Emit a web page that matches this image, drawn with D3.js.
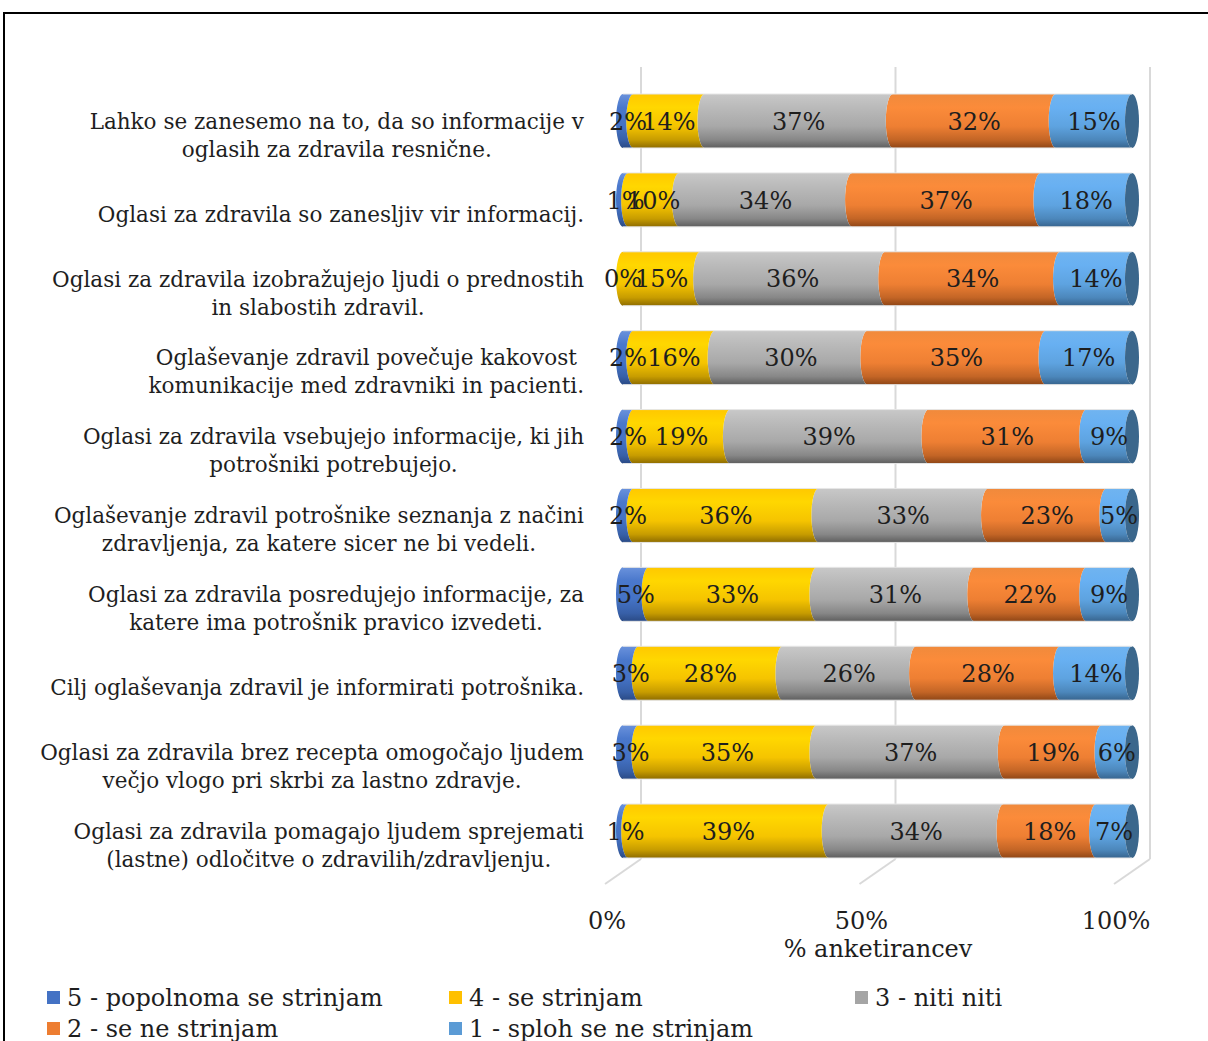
<!DOCTYPE html>
<html>
<head>
<meta charset="utf-8">
<script src="https://cdn.jsdelivr.net/npm/d3@7"></script>
<style>
  html, body { margin: 0; padding: 0; background: #fff; }
  svg { display: block; font-family: "DejaVu Serif", "Liberation Serif", serif; }
</style>
</head>
<body>
<svg id="chart" width="1208" height="1041"></svg>
<script>
// Survey statements (line breaks mark where each label wraps)
const categories = [
  "Lahko se zanesemo na to, da so informacije v\noglasih za zdravila resnične.",
  "Oglasi za zdravila so zanesljiv vir informacij.",
  "Oglasi za zdravila izobražujejo ljudi o prednostih\nin slabostih zdravil.",
  "Oglaševanje zdravil povečuje kakovost\nkomunikacije med zdravniki in pacienti.",
  "Oglasi za zdravila vsebujejo informacije, ki jih\npotrošniki potrebujejo.",
  "Oglaševanje zdravil potrošnike seznanja z načini\nzdravljenja, za katere sicer ne bi vedeli.",
  "Oglasi za zdravila posredujejo informacije, za\nkatere ima potrošnik pravico izvedeti.",
  "Cilj oglaševanja zdravil je informirati potrošnika.",
  "Oglasi za zdravila brez recepta omogočajo ljudem\nvečjo vlogo pri skrbi za lastno zdravje.",
  "Oglasi za zdravila pomagajo ljudem sprejemati\n(lastne) odločitve o zdravilih/zdravljenju."
];

// Answer shares in percent, one array per answer level
const seriesNames = [
  "5 - popolnoma se strinjam",
  "4 - se strinjam",
  "3 - niti niti",
  "2 - se ne strinjam",
  "1 - sploh se ne strinjam"
];
const agree5    = [2, 1, 0, 2, 2, 2, 5, 3, 3, 1];
const agree4    = [14, 10, 15, 16, 19, 36, 33, 28, 35, 39];
const neutral3  = [37, 34, 36, 30, 39, 33, 31, 26, 37, 34];
const disagree2 = [32, 37, 34, 35, 31, 23, 22, 28, 19, 18];
const disagree1 = [15, 18, 14, 17, 9, 5, 9, 14, 6, 7];
const seriesValues = [agree5, agree4, neutral3, disagree2, disagree1];

const tickValues = [0, 0.5, 1];
const tickLabels = ["0%", "50%", "100%"];
const axisTitle = "% anketirancev";

// Colours: legend swatch, and top / mid / bottom shades for the cylinder faces
const palette = [
  { swatch: "#4472C4", top: "#6a92dc", mid: "#4a78cc", low: "#4472C4", bot: "#2a4a85" },
  { swatch: "#FFC000", top: "#ffc800", mid: "#ffd700", low: "#f5c400", bot: "#8e6c00" },
  { swatch: "#A5A5A5", top: "#c8c8c8", mid: "#bababa", low: "#a8a8a8", bot: "#5e5e5e" },
  { swatch: "#ED7D31", top: "#f08a3c", mid: "#fb8b3a", low: "#ee7f33", bot: "#8f4616" },
  { swatch: "#5B9BD5", top: "#70b4f0", mid: "#68b0f2", low: "#5ea3e0", bot: "#37648e" }
];
const capColor = "#3b678c";

const svg = d3.select("#chart");
const textColor = "#1e1e1e";

// Outer frame
svg.append("rect")
  .attr("x", 4).attr("y", 13)
  .attr("width", 1300).attr("height", 1100)
  .attr("fill", "none").attr("stroke", "#000").attr("stroke-width", 2);

// Gradients
const defs = svg.append("defs");
palette.forEach((p, i) => {
  const g = defs.append("linearGradient")
    .attr("id", "cyl" + i).attr("x1", 0).attr("y1", 0).attr("x2", 0).attr("y2", 1);
  [[0, p.top], [0.25, p.mid], [0.6, p.low], [0.85, d3.interpolateRgb(p.low, p.bot)(0.45)], [1, p.bot]]
    .forEach(([o, c]) => g.append("stop").attr("offset", o).attr("stop-color", c));
});

// Scales: back wall, bar plane, and front floor edge of the 3-D plot
const xBack  = d3.scaleLinear().domain([0, 1]).range([641, 1150]);
const xBar   = d3.scaleLinear().domain([0, 1]).range([623, 1132]);
const xFront = d3.scaleLinear().domain([0, 1]).range([605, 1114]);
const y = d3.scaleBand().domain(d3.range(categories.length))
  .range([94, 858]).paddingInner(0.316).paddingOuter(0);

const wallTop = 67, wallBottom = 859, floorFront = 884;

// Gridlines on the back wall and the floor
const grid = svg.append("g").attr("stroke", "#d9d9d9").attr("stroke-width", 2).attr("fill", "none");
tickValues.forEach(t => {
  grid.append("line")
    .attr("x1", xBack(t)).attr("x2", xBack(t))
    .attr("y1", wallTop).attr("y2", wallBottom);
  grid.append("line")
    .attr("x1", xBack(t)).attr("y1", wallBottom)
    .attr("x2", xFront(t)).attr("y2", floorFront);
});

// Stacked, normalised segments
const totals = categories.map((_, i) => d3.sum(seriesValues, s => s[i]));
const rx = 7;

function segmentPath(a, b, top, bot) {
  const ry = (bot - top) / 2;
  return `M${a},${top} L${b},${top} A${rx},${ry} 0 0 0 ${b},${bot} L${a},${bot} A${rx},${ry} 0 0 1 ${a},${top} Z`;
}

const bars = svg.append("g");
const labels = svg.append("g")
  .attr("font-size", 24).attr("fill", textColor).attr("text-anchor", "middle");

categories.forEach((cat, i) => {
  const top = y(i), bot = y(i) + y.bandwidth(), cy = top + y.bandwidth() / 2;
  let acc = 0;
  const segs = seriesValues.map((s, k) => {
    const v = s[i] / totals[i];
    const seg = { k, a: acc, b: acc + v, value: s[i] };
    acc += v;
    return seg;
  });
  // draw right-most segments first so each left-bulging edge overlaps correctly
  segs.slice().reverse().forEach(sg => {
    if (sg.value <= 0) return;
    bars.append("path")
      .attr("d", segmentPath(xBar(sg.a), xBar(sg.b), top, bot))
      .attr("fill", `url(#cyl${sg.k})`);
  });
  // end cap of the cylinder
  bars.append("ellipse")
    .attr("cx", xBar(1)).attr("cy", cy)
    .attr("rx", rx).attr("ry", y.bandwidth() / 2)
    .attr("fill", capColor);
  // faint outline of the cylinder
  bars.append("path")
    .attr("d", `M${xBar(0)},${top} L${xBar(1)},${top} M${xBar(0)},${bot} L${xBar(1)},${bot}`)
    .attr("stroke", "#e6e6e6").attr("stroke-width", 1).attr("fill", "none");

  segs.forEach(sg => {
    labels.append("text")
      .attr("x", xBar((sg.a + sg.b) / 2))
      .attr("y", cy)
      .attr("dy", "0.36em")
      .text(sg.value + "%");
  });
});

// Category labels: lines centred within a block that is right-aligned
const catG = svg.append("g").attr("font-size", 21.5).attr("fill", textColor).attr("text-anchor", "middle");
const rightEdge = 584, lineH = 28;
categories.forEach((cat, i) => {
  const lines = cat.split("\n");
  const cy = y(i) + y.bandwidth() / 2 + 14;
  const t = catG.append("text");
  lines.forEach((ln, j) => {
    t.append("tspan").attr("y", cy + (j - (lines.length - 1) / 2) * lineH).attr("dy", "0.36em").text(ln);
  });
  const widths = [];
  t.selectAll("tspan").each(function () { widths.push(this.getComputedTextLength()); });
  const w = d3.max(widths);
  t.selectAll("tspan").attr("x", rightEdge - w / 2);
});

// X axis tick labels and title
const axisG = svg.append("g").attr("font-size", 24).attr("fill", textColor).attr("text-anchor", "middle");
tickValues.forEach((t, i) => {
  axisG.append("text").attr("x", xFront(t) + 2).attr("y", 920).attr("dy", "0.36em").text(tickLabels[i]);
});
axisG.append("text").attr("x", 878).attr("y", 948).attr("dy", "0.36em").text(axisTitle);

// Legend
const legendPos = [[47, 997], [449, 997], [855, 997], [47, 1028], [449, 1028]];
const legend = svg.append("g").attr("font-size", 24).attr("fill", textColor);
seriesNames.forEach((name, k) => {
  const [lx, ly] = legendPos[k];
  legend.append("rect").attr("x", lx).attr("y", ly - 6).attr("width", 13).attr("height", 13)
    .attr("fill", palette[k].swatch);
  legend.append("text").attr("x", lx + 20).attr("y", ly).attr("dy", "0.36em").text(name);
});
</script>
</body>
</html>
